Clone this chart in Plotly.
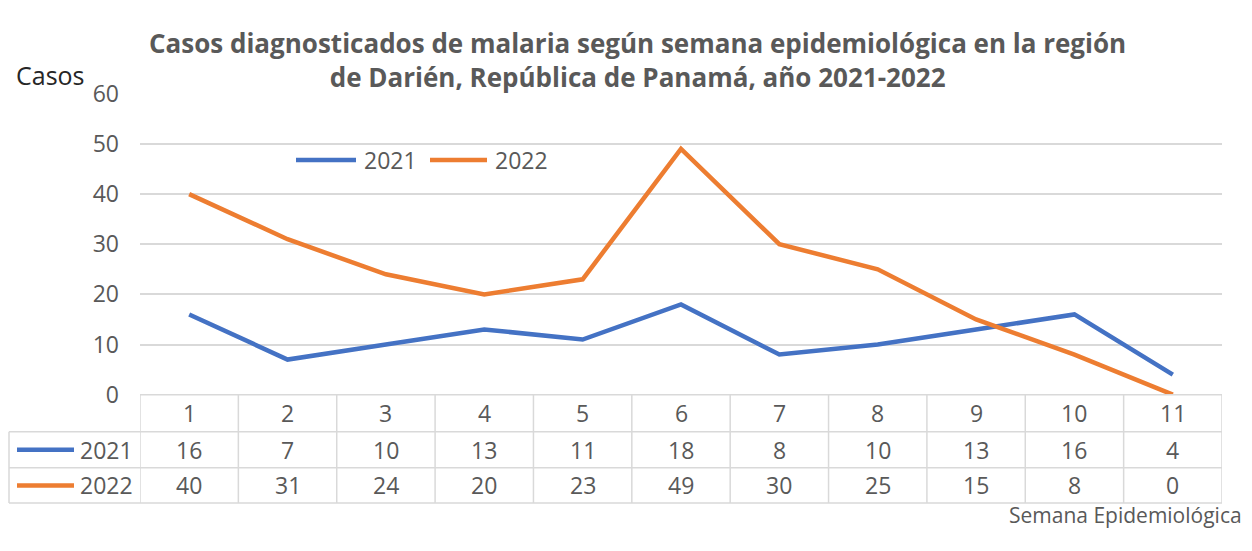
import plotly.graph_objects as go

weeks = [1, 2, 3, 4, 5, 6, 7, 8, 9, 10, 11]
cases_2021 = [16, 7, 10, 13, 11, 18, 8, 10, 13, 16, 4]
cases_2022 = [40, 31, 24, 20, 23, 49, 30, 25, 15, 8, 0]
series_names = ["2021", "2022"]
colors = ["#4472C4", "#ED7D31"]
y_ticks = [0, 10, 20, 30, 40, 50, 60]
title_text = ("<b>Casos diagnosticados de malaria según semana epidemiológica en la región"
              "<br>de Darién, República de Panamá, año 2021-2022</b>")

# page body has an 8px margin; figure drawn at (8, 8) and sized to fit the window
OFF = 8
W, H = 1252 - 2 * OFF, 551 - 2 * OFF
# vertical placement measured from the photographed page
S, C = 0.9375, 17.9
def px(x): return (x - OFF) / W
def py(y):
    page = (y - C) / S
    return 1 - (page - OFF) / H
def pyp(page): return 1 - (page - OFF) / H

GRAY = "#595959"
GRID = "#D9D9D9"
FONT = "Open Sans"
FS = 23

fig = go.Figure()
for name, vals, c in zip(series_names, [cases_2021, cases_2022], colors):
    fig.add_trace(go.Scatter(x=weeks, y=vals, mode="lines", name=name,
                             line=dict(color=c, width=4.5), showlegend=False))

x0p, x1p = px(140), px(1222)
ytop, ybot = py(94), py(394)
row_y = [py(394), py(431), py(467), py(502)]

shapes = []
annotations = []
# horizontal table lines
shapes.append(dict(type="line", xref="paper", yref="paper", x0=x0p, x1=x1p,
                   y0=row_y[0], y1=row_y[0], line=dict(color=GRID, width=1.5)))
for yy in row_y[1:]:
    shapes.append(dict(type="line", xref="paper", yref="paper", x0=px(9), x1=x1p,
                       y0=yy, y1=yy, line=dict(color=GRID, width=1.5)))
# vertical table lines
for i in range(len(weeks) + 1):
    xv = weeks[0] - 0.5 + i
    shapes.append(dict(type="line", xref="x", yref="paper", x0=xv, x1=xv,
                       y0=row_y[3], y1=row_y[0], line=dict(color=GRID, width=1.5)))
shapes.append(dict(type="line", xref="paper", yref="paper", x0=px(9), x1=px(9),
                   y0=row_y[3], y1=row_y[1], line=dict(color=GRID, width=1.5)))

cell_font = dict(family=FONT, size=FS, color=GRAY)
for w in weeks:
    annotations.append(dict(x=w, y=(row_y[0] + row_y[1]) / 2, xref="x", yref="paper",
                            text=str(w), showarrow=False, font=cell_font, borderpad=0,
                            xanchor="center", yanchor="middle"))
for r, vals in enumerate([cases_2021, cases_2022]):
    yc = (row_y[r + 1] + row_y[r + 2]) / 2
    for w, v in zip(weeks, vals):
        annotations.append(dict(x=w, y=yc, xref="x", yref="paper", text=str(v),
                                showarrow=False, font=cell_font, borderpad=0,
                                xanchor="center", yanchor="middle"))
    shapes.append(dict(type="line", xref="paper", yref="paper", x0=px(17), x1=px(74),
                       y0=yc, y1=yc, line=dict(color=colors[r], width=4.5)))
    annotations.append(dict(x=px(134), y=yc, xref="paper", yref="paper",
                            text=series_names[r], showarrow=False, xanchor="right",
                            yanchor="middle", font=cell_font, borderpad=0))

# legend (drawn manually to match the reference layout)
leg_y = py(160)
leg_items = [(296, 356, 362), (430, 487, 493)]
for (lx0, lx1, tx), name, c in zip(leg_items, series_names, colors):
    shapes.append(dict(type="line", xref="paper", yref="paper", x0=px(lx0), x1=px(lx1),
                       y0=leg_y, y1=leg_y, line=dict(color=c, width=4.5)))
    annotations.append(dict(x=px(tx), y=leg_y, xref="paper", yref="paper", text=name,
                            showarrow=False, xanchor="left", yanchor="middle",
                            font=cell_font))

annotations.append(dict(x=px(637), y=pyp(6), xref="paper", yref="paper",
                        text=title_text, showarrow=False, xanchor="center",
                        yanchor="top", align="center",
                        font=dict(family=FONT, size=26, color=GRAY)))
annotations.append(dict(x=px(14), y=py(75), xref="paper", yref="paper", text="Casos",
                        showarrow=False, xanchor="left", yanchor="middle",
                        font=dict(family=FONT, size=25, color="#262626")))
annotations.append(dict(x=px(1243), y=pyp(529), xref="paper", yref="paper",
                        text="Semana Epidemiológica", showarrow=False, xanchor="right",
                        yanchor="middle", borderpad=0,
                        font=dict(family=FONT, size=21, color=GRAY)))

fig.update_layout(
    width=W, height=H,
    margin=dict(l=0, r=0, t=0, b=0),
    paper_bgcolor="white", plot_bgcolor="white",
    showlegend=False,
    xaxis=dict(domain=[x0p, x1p], range=[0.5, 11.5], showticklabels=False,
               showgrid=False, zeroline=False, showline=False, ticks=""),
    yaxis=dict(domain=[ybot, ytop], range=[0, 60], tickvals=y_ticks,
               showgrid=True, gridcolor=GRID, gridwidth=1.5, zeroline=False,
               ticks="", ticklabelstandoff=20,
               tickfont=dict(family=FONT, size=FS, color=GRAY)),
    shapes=shapes, annotations=annotations,
)
fig.write_html("out.html")
